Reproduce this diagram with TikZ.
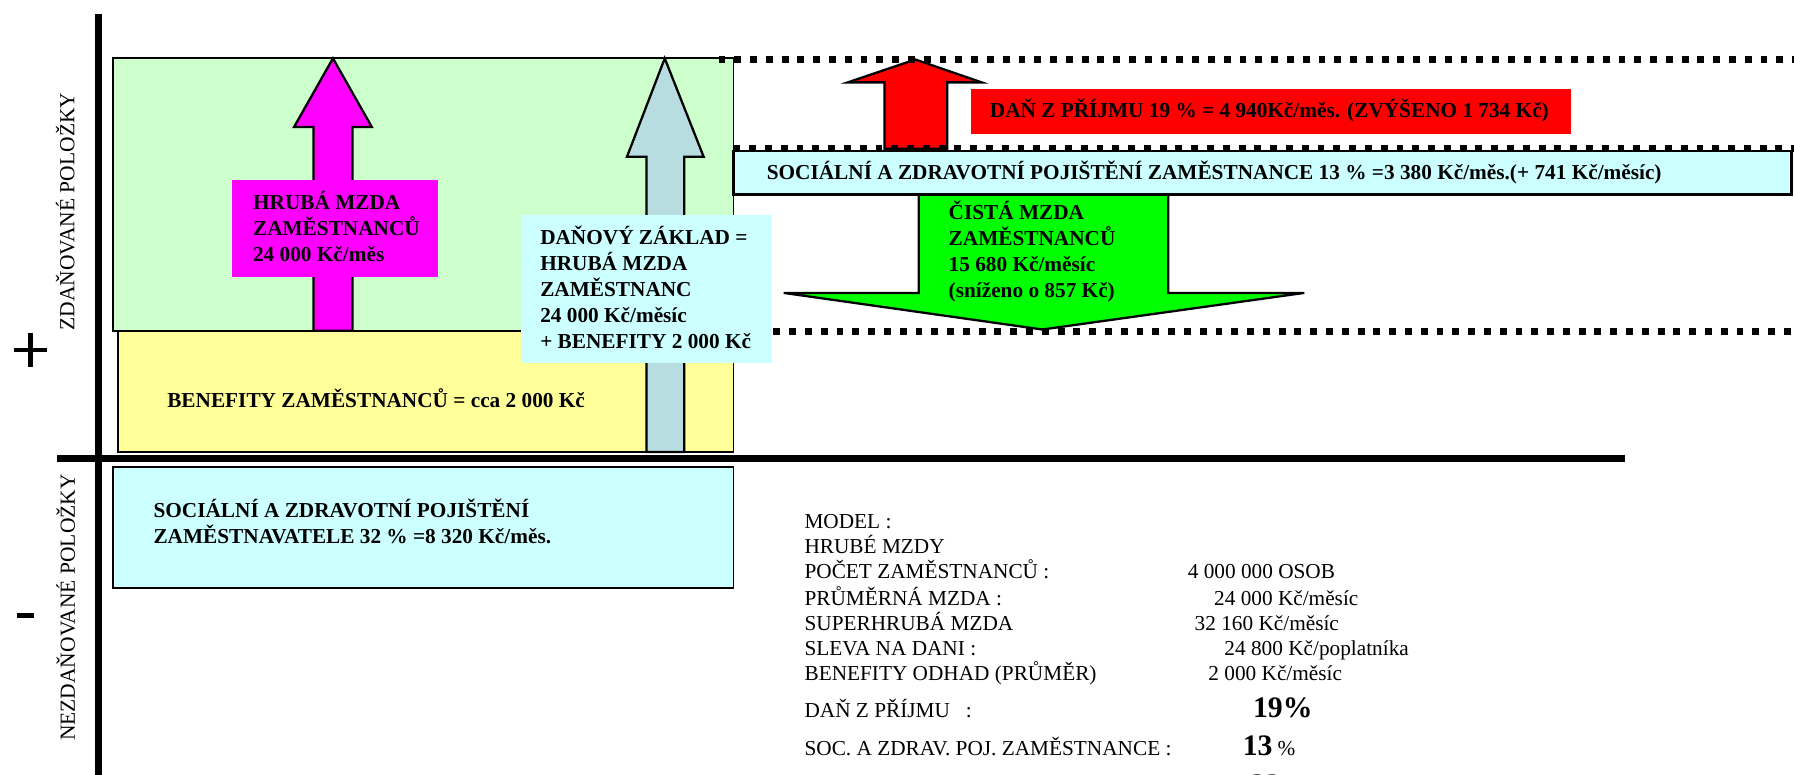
\documentclass[tikz,border=0pt]{standalone}
\usepackage{fontspec}
\setmainfont{Liberation Serif}
\definecolor{cGreen}{HTML}{CCFFCC}
\definecolor{cYellow}{HTML}{FFFF99}
\definecolor{cMag}{HTML}{FF00FF}
\definecolor{cBlue}{HTML}{B8DDE0}
\definecolor{cCyan}{HTML}{CCFFFF}
\definecolor{cRed}{HTML}{FF0000}
\definecolor{cLime}{HTML}{00FF00}
\begin{document}
\begin{tikzpicture}[x=1pt,y=-1pt,
  bx/.style={draw=black,line width=1.5pt},
  arr/.style={draw=black,line width=2pt,line join=miter},
  dots/.style={line width=6.3pt,dash pattern=on 6pt off 7.8pt},
  axisline/.style={line width=6pt},
  lbl/.style={anchor=base west,inner sep=0pt,font=\fontsize{18.6}{22}\selectfont\bfseries},
  mdl/.style={anchor=base west,inner sep=0pt,font=\fontsize{18.6}{22}\selectfont},
  big/.style={anchor=base west,inner sep=0pt,font=\fontsize{26}{30}\selectfont\bfseries},
  side/.style={anchor=base,inner sep=0pt,rotate=90,font=\fontsize{18.8}{22}\selectfont}]
\useasboundingbox (0,0) rectangle (1568,677);

% axes
\draw[axisline] (86,12) -- (86,685);
\draw[axisline] (50,400.5) -- (1420,400.5);

% plus / minus
\draw[line width=3.5pt] (12,306) -- (41,306);
\draw[line width=4pt] (26.5,291) -- (26.5,321);
\fill (15,536) rectangle (30,540.5);

% side labels
\node[side] (lblTax) at (65,185) {ZDAŇOVANÉ POLOŽKY};
\node[side] (lblNoTax) at (65.5,531) {NEZDAŇOVANÉ POLOŽKY};

% green and yellow boxes
\filldraw[bx,fill=cGreen] (99,51) rectangle (641,289);
\filldraw[bx,fill=cYellow] (103,289) rectangle (641,395);

% magenta arrow
\filldraw[arr,fill=cMag] (274,289) -- (274,111) -- (257,111) -- (291,51) -- (325,111) -- (308,111) -- (308,289) -- cycle;
\fill[cMag] (203,157) rectangle (383,242);
\node[lbl] (hm1) at (221,183.5) {HRUBÁ MZDA};
\node[lbl] (hm2) at (221,206) {ZAMĚSTNANCŮ};
\node[lbl] (hm3) at (221,228.5) {24 000 Kč/měs};

% benefity text
\node[lbl] (ben) at (146,356) {BENEFITY ZAMĚSTNANCŮ = cca 2 000 Kč};

% blue arrow
\filldraw[arr,fill=cBlue] (565,395) -- (565,137) -- (548,137) -- (581,51) -- (615,137) -- (598,137) -- (598,395) -- cycle;
\fill[cCyan] (455,188) rectangle (675,317);
\node[lbl] (dz1) at (472,213.5) {DAŇOVÝ ZÁKLAD =};
\node[lbl] (dz2) at (472,236.2) {HRUBÁ MZDA};
\node[lbl] (dz3) at (472,258.9) {ZAMĚSTNANC};
\node[lbl] (dz4) at (472,281.6) {24 000 Kč/měsíc};
\node[lbl] (dz5) at (472,304.4) {+ BENEFITY 2 000 Kč};

% lower cyan box
\filldraw[bx,fill=cCyan] (99,408) rectangle (641,514);
\node[lbl] (szp1) at (134,452) {SOCIÁLNÍ A ZDRAVOTNÍ POJIŠTĚNÍ};
\node[lbl] (szp2) at (134,474.6) {ZAMĚSTNAVATELE 32 \% =8 320 Kč/měs.};

% red arrow and box
\filldraw[arr,fill=cRed] (773,130) -- (773,72) -- (741,72) -- (800,52) -- (858,72) -- (828,72) -- (828,130) -- cycle;
\fill[cRed] (849,78) rectangle (1373,117);
\node[lbl] (dan) at (865,103) {DAŇ Z PŘÍJMU 19 \% = 4 940Kč/měs. (ZVÝŠENO 1 734 Kč)};

% green arrow
\filldraw[arr,fill=cLime] (803,170) -- (803,256) -- (685,256) -- (911,288) -- (1140,256) -- (1021,256) -- (1021,170);
\node[lbl] (cm1) at (829,192) {ČISTÁ MZDA};
\node[lbl] (cm2) at (829,214.7) {ZAMĚSTNANCŮ};
\node[lbl] (cm3) at (829,237.3) {15 680 Kč/měsíc};
\node[lbl] (cm4) at (829,260) {(sníženo o 857 Kč)};

% SOC box
\filldraw[bx,fill=cCyan,line width=2.5pt] (641,132) rectangle (1566,170);
\node[lbl] (soc) at (670,157) {SOCIÁLNÍ A ZDRAVOTNÍ POJIŠTĚNÍ ZAMĚSTNANCE 13 \% =3 380 Kč/měs.(+ 741 Kč/měsíc)};

% dotted lines
\draw[dots] (628,52) -- (1568,52);
\draw[dots] (641,130) -- (1568,130);
\draw[dots] (676,290) -- (1568,290);

% model text
\node[mdl] (m1) at (703,462) {MODEL :};
\node[mdl] (m2) at (703,484) {HRUBÉ MZDY};
\node[mdl] (m3) at (703,506) {POČET ZAMĚSTNANCŮ :};
\node[mdl] (m4) at (703,529) {PRŮMĚRNÁ MZDA :};
\node[mdl] (m5) at (703,551) {SUPERHRUBÁ MZDA};
\node[mdl] (m6) at (703,573) {SLEVA NA DANI :};
\node[mdl] (m7) at (703,595) {BENEFITY ODHAD (PRŮMĚR)};
\node[mdl] (m8) at (703,627) {DAŇ Z PŘÍJMU\hspace{14pt}:};
\node[mdl] (m9) at (703,660) {SOC. A ZDRAV. POJ. ZAMĚSTNANCE :};

\node[mdl] (v3) at (1038,506) {4 000 000 OSOB};
\node[mdl] (v4) at (1061,529) {24 000 Kč/měsíc};
\node[mdl] (v5) at (1044,551) {32 160 Kč/měsíc};
\node[mdl] (v6) at (1070,573) {24 800 Kč/poplatníka};
\node[mdl] (v7) at (1056,595) {2 000 Kč/měsíc};
\node[big] (v8) at (1095,627) {19\%};
\node[big] (v9) at (1086,660) {13};
\node[mdl] (v9p) at (v9.base east) [xshift=4pt] {\%};
\node[big] (v10) at (1093,694) {32};
\end{tikzpicture}
\end{document}
